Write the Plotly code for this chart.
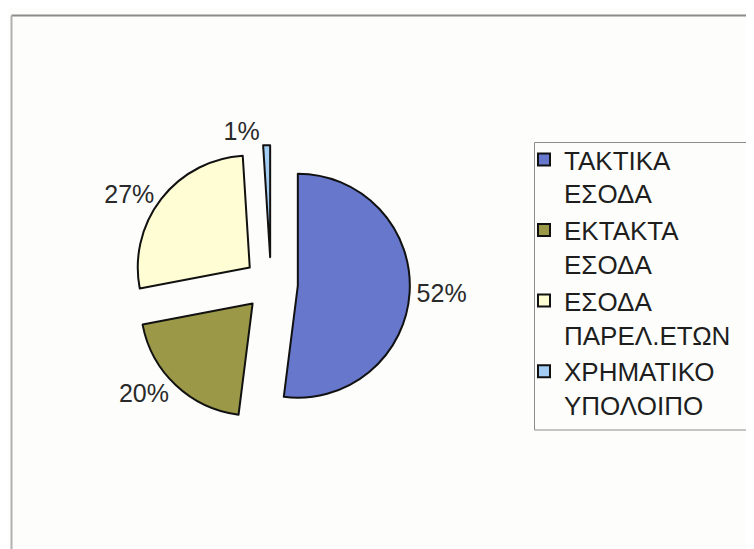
import plotly.graph_objects as go

# Data
categories = ["ΤΑΚΤΙΚΑ<br>ΕΣΟΔΑ", "ΕΚΤΑΚΤΑ<br>ΕΣΟΔΑ", "ΕΣΟΔΑ<br>ΠΑΡΕΛ.ΕΤΩΝ", "ΧΡΗΜΑΤΙΚΟ<br>ΥΠΟΛΟΙΠΟ"]
values = [52, 20, 27, 1]
colors = ["#6677cc", "#9b9848", "#fffdd4", "#a3cdf2"]

# page body has an 8px default margin: size the figure to fit the window
OFF = 8
W, H = 754 - OFF, 549 - OFF
FONT = "Liberation Sans, Arial, sans-serif"

def px(x):
    return (x - OFF) / W

def py(y):
    return 1 - (y - OFF) / H

R, PULL = 112, 0.24
CX, CY = 271, 284
HALF = R * (1 + PULL)

fig = go.Figure()
fig.add_trace(go.Pie(
    labels=categories,
    values=values,
    sort=False,
    direction="clockwise",
    rotation=0,
    pull=[PULL] * len(values),
    marker=dict(colors=colors, line=dict(color="#111111", width=2)),
    textinfo="percent",
    textposition="outside",
    texttemplate="%{percent:.0%}",
    textfont=dict(family=FONT, size=25, color="#2a2a2a"),
    domain=dict(x=[px(CX - HALF), px(CX + HALF)], y=[py(CY + HALF), py(CY - HALF)]),
    hoverinfo="label+percent",
))

fig.update_layout(
    width=W, height=H,
    margin=dict(l=0, r=0, t=0, b=0, autoexpand=False),
    paper_bgcolor="#fdfefc",
    plot_bgcolor="#fdfefc",
    showlegend=True,
    legend=dict(
        x=px(524), xanchor="left",
        y=py(136), yanchor="top",
        valign="top",
        font=dict(family=FONT, size=26, color="#1e1e1e"),
        bgcolor="rgba(0,0,0,0)",
        borderwidth=0,
        tracegroupgap=0,
    ),
    shapes=[
        # chart frame
        dict(type="line", xref="paper", yref="paper", x0=px(11.5), x1=px(770), y0=py(15.5), y1=py(15.5),
             line=dict(color="#8a8a8a", width=2)),
        dict(type="line", xref="paper", yref="paper", x0=px(11.5), x1=px(11.5), y0=py(15.5), y1=py(570),
             line=dict(color="#b0b0b0", width=2)),
        # legend box
        dict(type="rect", xref="paper", yref="paper", x0=px(534.5), x1=px(780), y0=py(142.5), y1=py(430),
             line=dict(color="#8c8c8c", width=1), fillcolor="rgba(0,0,0,0)", layer="below"),
    ],
)

fig.write_html("out.html")
